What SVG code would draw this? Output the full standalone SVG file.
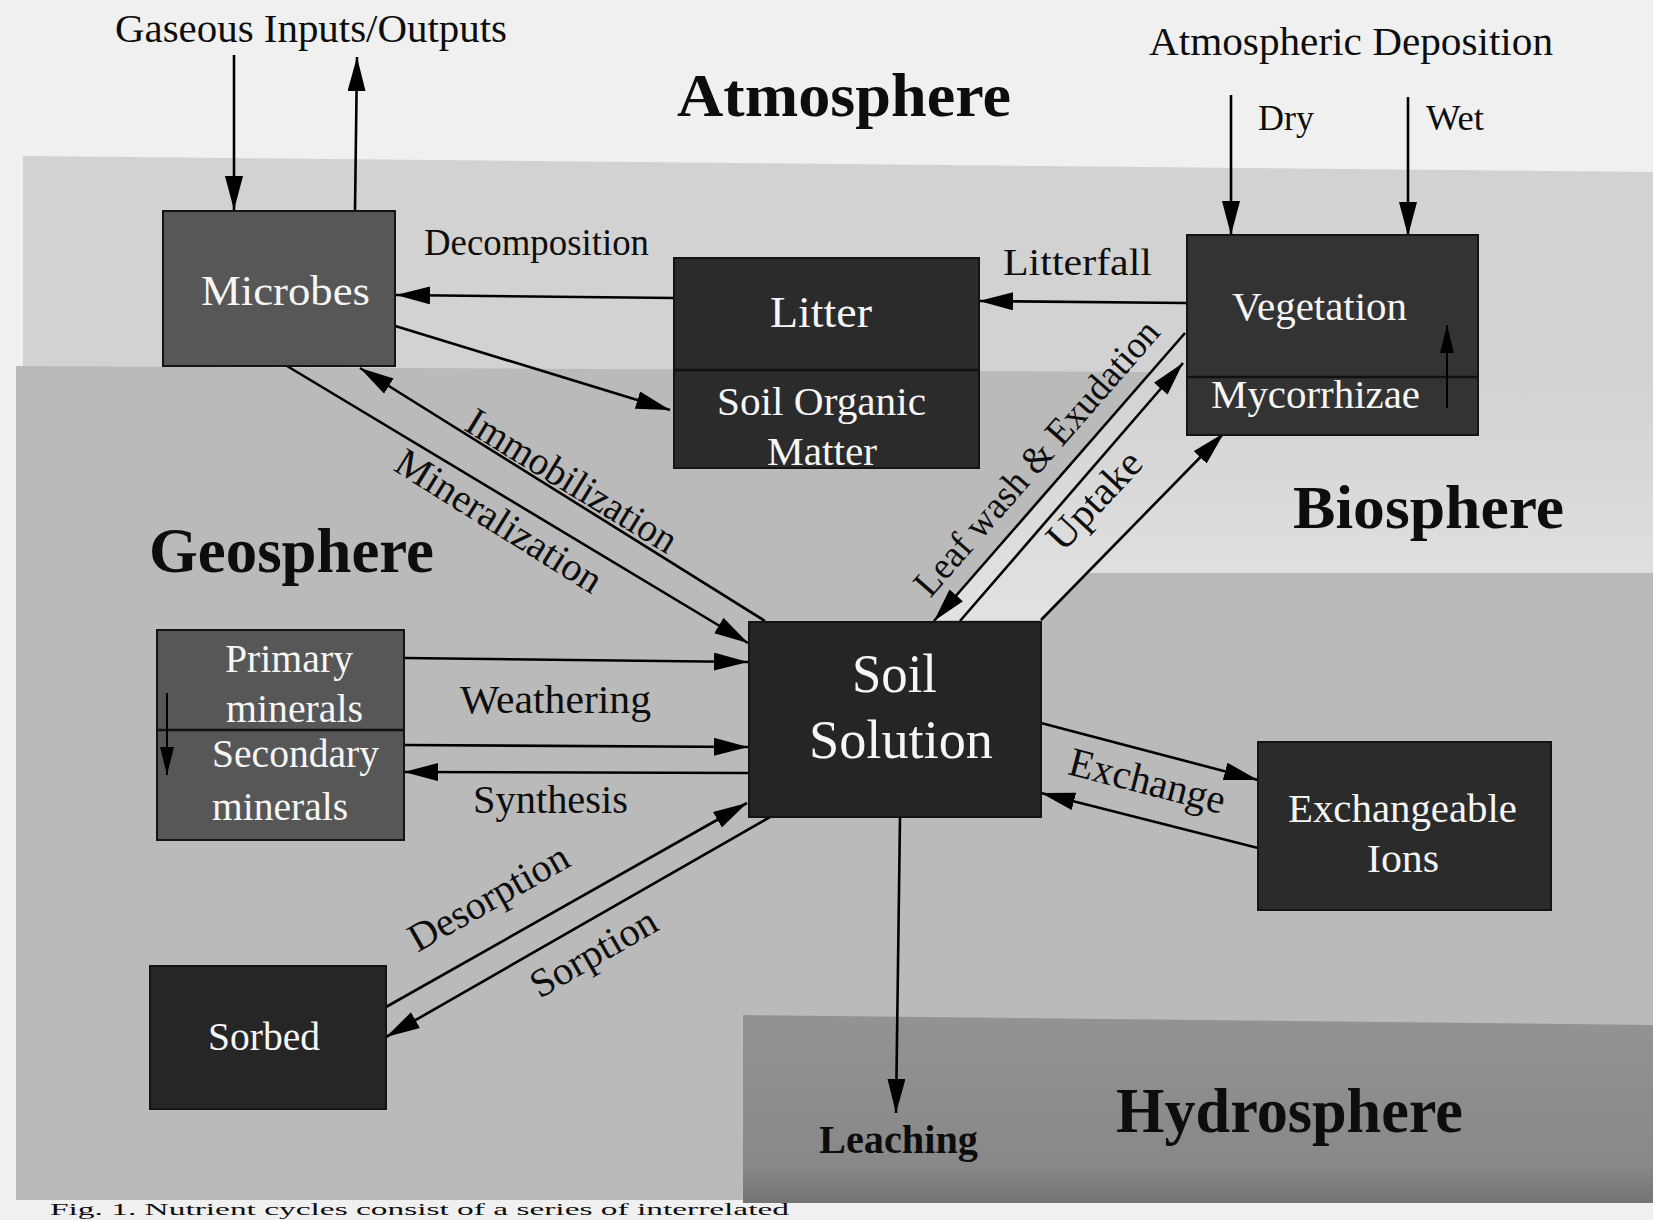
<svg xmlns="http://www.w3.org/2000/svg" width="1653" height="1220" viewBox="0 0 1653 1220">
  <defs>
    <marker id="ah" markerUnits="userSpaceOnUse" markerWidth="36" markerHeight="20" viewBox="0 0 36 20" refX="34" refY="9" orient="auto">
      <path d="M0,0 L34,9 L0,18 Z" fill="#000"/>
    </marker>
    <marker id="ahs" markerUnits="userSpaceOnUse" markerWidth="30" markerHeight="16" viewBox="0 0 30 16" refX="28" refY="7" orient="auto">
      <path d="M0,0 L28,7 L0,14 Z" fill="#000"/>
    </marker>
    <linearGradient id="bioG" x1="0" y1="0" x2="0" y2="1">
      <stop offset="0" stop-color="#d2d2d2"/>
      <stop offset="1" stop-color="#e2e2e2"/>
    </linearGradient>
    <linearGradient id="hydG" x1="0" y1="0" x2="0" y2="1">
      <stop offset="0" stop-color="#939393"/>
      <stop offset="0.8" stop-color="#888888"/>
      <stop offset="1" stop-color="#747474"/>
    </linearGradient>
    <style>
      .box { stroke:#141414; stroke-width:2; }
      .dark { fill:#2b2b2b; }
      .mid { fill:#575757; }
      .div { stroke:#111; stroke-width:2.5; }
      .nt { font-family:"Liberation Serif","Times New Roman",serif; fill:#f6f6f6; }
      .lt { font-family:"Liberation Serif","Times New Roman",serif; fill:#0d0d0d; }
      .bd { font-weight:bold; }
      .cn { stroke:#000; stroke-width:2.6; fill:none; marker-end:url(#ah); }
      .cs { stroke:#000; stroke-width:2; fill:none; marker-end:url(#ahs); }
    </style>
  </defs>

  <g id="background">
    <rect x="0" y="0" width="1653" height="1220" fill="#f0f0f0"/>
    <polygon points="23,156 1653,172 1653,1200 23,1200" fill="#d2d2d2"/>
    <polygon points="1151,372 1653,372 1653,573 1089,573 1042,620 935,620" fill="url(#bioG)"/>
    <polygon points="16,366 1151,372 935,620 1042,620 1089,573 1653,573 1653,1200 16,1200" fill="#bababa"/>
    <polygon points="743,1015 1653,1025 1653,1203 743,1203" fill="url(#hydG)"/>
  </g>

  <g id="regions">
    <text class="lt bd" x="677" y="116" font-size="62" textLength="334" lengthAdjust="spacingAndGlyphs">Atmosphere</text>
    <text class="lt bd" x="149" y="572" font-size="63" textLength="285" lengthAdjust="spacingAndGlyphs">Geosphere</text>
    <text class="lt bd" x="1293" y="528" font-size="62" textLength="271" lengthAdjust="spacingAndGlyphs">Biosphere</text>
    <text class="lt bd" x="1116" y="1132" font-size="63" textLength="347" lengthAdjust="spacingAndGlyphs">Hydrosphere</text>
    <text class="lt" x="115" y="42" font-size="40" textLength="392" lengthAdjust="spacingAndGlyphs">Gaseous Inputs/Outputs</text>
    <text class="lt" x="1149" y="55" font-size="41" textLength="404" lengthAdjust="spacingAndGlyphs">Atmospheric Deposition</text>
    <text class="lt" x="50" y="1215" font-size="16" textLength="739" lengthAdjust="spacingAndGlyphs">Fig. 1. Nutrient cycles consist of a series of interrelated</text>
  </g>

  <g id="connectors">
    <line class="cn" x1="234" y1="55" x2="234" y2="210"/>
    <line class="cn" x1="355" y1="211" x2="357" y2="57"/>
    <line class="cn" x1="1231" y1="95" x2="1231" y2="235"/>
    <line class="cn" x1="1408" y1="97" x2="1408" y2="236"/>
    <line class="cn" x1="675" y1="298" x2="396" y2="295"/>
    <line class="cn" x1="1186" y1="303" x2="979" y2="301"/>
    <line class="cn" x1="392" y1="325" x2="670" y2="410"/>
    <line class="cn" x1="287" y1="366" x2="748" y2="643"/>
    <line class="cn" x1="765" y1="621" x2="360" y2="368"/>
    <line class="cn" x1="1185" y1="333" x2="934" y2="621"/>
    <line class="cn" x1="960" y1="621" x2="1183" y2="363"/>
    <line class="cn" x1="1041" y1="620" x2="1224" y2="433"/>
    <line class="cn" x1="404" y1="658" x2="748" y2="662"/>
    <line class="cn" x1="404" y1="745" x2="748" y2="747"/>
    <line class="cn" x1="748" y1="773" x2="404" y2="772"/>
    <line class="cn" x1="1041" y1="723" x2="1258" y2="780"/>
    <line class="cn" x1="1258" y1="848" x2="1041" y2="793"/>
    <line class="cn" x1="386" y1="1007" x2="747" y2="803"/>
    <line class="cn" x1="770" y1="817" x2="386" y2="1037"/>
    <line class="cn" x1="900" y1="817" x2="896" y2="1113"/>

    <text class="lt" x="424" y="255" font-size="37" textLength="225" lengthAdjust="spacingAndGlyphs">Decomposition</text>
    <text class="lt" x="1003" y="275" font-size="38" textLength="149" lengthAdjust="spacingAndGlyphs">Litterfall</text>
    <text class="lt" x="1258" y="130" font-size="36" textLength="56" lengthAdjust="spacingAndGlyphs">Dry</text>
    <text class="lt" x="1426" y="130" font-size="36" textLength="58" lengthAdjust="spacingAndGlyphs">Wet</text>
    <text class="lt" x="460" y="713" font-size="41" textLength="191" lengthAdjust="spacingAndGlyphs">Weathering</text>
    <text class="lt" x="473" y="813" font-size="41" textLength="155" lengthAdjust="spacingAndGlyphs">Synthesis</text>
    <text class="lt bd" x="819" y="1153" font-size="40" textLength="159" lengthAdjust="spacingAndGlyphs">Leaching</text>
    <text class="lt" transform="translate(565,492) rotate(31.5)" x="-120" y="0" font-size="40" textLength="240" lengthAdjust="spacingAndGlyphs">Immobilization</text>
    <text class="lt" transform="translate(492,532) rotate(32)" x="-118" y="0" font-size="40" textLength="236" lengthAdjust="spacingAndGlyphs">Mineralization</text>
    <text class="lt" transform="translate(1046,466) rotate(-48.9)" x="-176" y="0" font-size="38" textLength="352" lengthAdjust="spacingAndGlyphs">Leaf wash &amp; Exudation</text>
    <text class="lt" transform="translate(1104,509) rotate(-47)" x="-60" y="0" font-size="40" textLength="120" lengthAdjust="spacingAndGlyphs">Uptake</text>
    <text class="lt" transform="translate(1144,794) rotate(14.5)" x="-80" y="0" font-size="41" textLength="160" lengthAdjust="spacingAndGlyphs">Exchange</text>
    <text class="lt" transform="translate(495,909) rotate(-29.5)" x="-89" y="0" font-size="40" textLength="178" lengthAdjust="spacingAndGlyphs">Desorption</text>
    <text class="lt" transform="translate(600,964) rotate(-30)" x="-70" y="0" font-size="40" textLength="140" lengthAdjust="spacingAndGlyphs">Sorption</text>
  </g>

  <g id="node-microbes">
    <rect class="box mid" x="163" y="211" width="232" height="155"/>
    <text class="nt" x="201" y="305" font-size="43" textLength="169" lengthAdjust="spacingAndGlyphs">Microbes</text>
  </g>

  <g id="node-litter-som">
    <rect class="box dark" x="674" y="258" width="305" height="210"/>
    <line class="div" x1="674" y1="370" x2="979" y2="370"/>
    <text class="nt" x="770" y="327" font-size="44" textLength="102" lengthAdjust="spacingAndGlyphs">Litter</text>
    <text class="nt" x="717" y="415" font-size="41" textLength="209" lengthAdjust="spacingAndGlyphs">Soil Organic</text>
    <text class="nt" x="767" y="465" font-size="41" textLength="110" lengthAdjust="spacingAndGlyphs">Matter</text>
  </g>

  <g id="node-vegetation">
    <rect class="box" fill="#333333" x="1187" y="235" width="291" height="200"/>
    <line class="div" x1="1187" y1="377" x2="1478" y2="377"/>
    <text class="nt" x="1232" y="320" font-size="40" textLength="175" lengthAdjust="spacingAndGlyphs">Vegetation</text>
    <text class="nt" x="1211" y="408" font-size="41" textLength="209" lengthAdjust="spacingAndGlyphs">Mycorrhizae</text>
    <line class="cs" x1="1447" y1="408" x2="1447" y2="325"/>
  </g>

  <g id="node-soil-solution">
    <rect class="box" fill="#252525" x="749" y="622" width="292" height="195"/>
    <text class="nt" x="852" y="692" font-size="55" textLength="85" lengthAdjust="spacingAndGlyphs">Soil</text>
    <text class="nt" x="809" y="758" font-size="55" textLength="184" lengthAdjust="spacingAndGlyphs">Solution</text>
  </g>

  <g id="node-minerals">
    <rect class="box mid" x="157" y="630" width="247" height="210"/>
    <line class="div" x1="157" y1="730" x2="404" y2="730"/>
    <text class="nt" x="225" y="672" font-size="40" textLength="128" lengthAdjust="spacingAndGlyphs">Primary</text>
    <text class="nt" x="226" y="722" font-size="40" textLength="137" lengthAdjust="spacingAndGlyphs">minerals</text>
    <text class="nt" x="212" y="767" font-size="40" textLength="167" lengthAdjust="spacingAndGlyphs">Secondary</text>
    <text class="nt" x="212" y="820" font-size="40" textLength="136" lengthAdjust="spacingAndGlyphs">minerals</text>
    <line class="cs" x1="167" y1="693" x2="167" y2="775"/>
  </g>

  <g id="node-exchangeable">
    <rect class="box dark" x="1258" y="742" width="293" height="168"/>
    <text class="nt" x="1288" y="822" font-size="41" textLength="229" lengthAdjust="spacingAndGlyphs">Exchangeable</text>
    <text class="nt" x="1367" y="872" font-size="41" textLength="72" lengthAdjust="spacingAndGlyphs">Ions</text>
  </g>

  <g id="node-sorbed">
    <rect class="box" fill="#262626" x="150" y="966" width="236" height="143"/>
    <text class="nt" x="208" y="1050" font-size="41" textLength="112" lengthAdjust="spacingAndGlyphs">Sorbed</text>
  </g>
</svg>
